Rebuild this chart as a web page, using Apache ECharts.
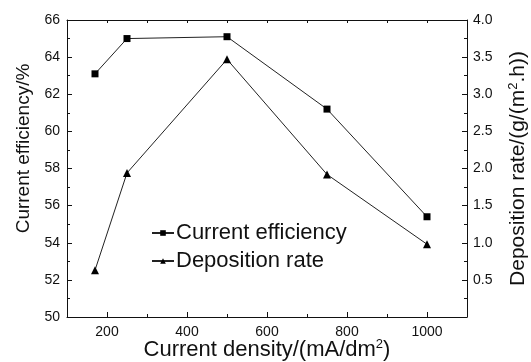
<!DOCTYPE html>
<html>
<head>
<meta charset="utf-8">
<script src="https://cdn.jsdelivr.net/npm/echarts@6/dist/echarts.min.js"></script>
<style>
  html, body { margin: 0; padding: 0; background: #fff; }
  #chart { width: 531px; height: 362px; }
</style>
</head>
<body>
<div id="chart"></div>
<script>
// Current density (mA/dm2)
const currentDensity = [170, 250, 500, 750, 1000];
// Current efficiency (%), left axis
const currentEfficiency = [63.1, 65.0, 65.1, 61.2, 55.4];
// Deposition rate g/(m2.h), right axis
const depositionRate = [0.63, 1.94, 3.47, 1.92, 0.98];
// Tick positions along the x axis
const xMajorTicks = [200, 400, 600, 800, 1000];
const xMinorTicks = [300, 500, 700, 900];

const FONT = 'Liberation Sans, Arial, sans-serif';
const INK = '#111';

const chart = echarts.init(document.getElementById('chart'), null, { renderer: 'canvas' });

const pair = (xs, ys) => xs.map((x, i) => [x, ys[i]]);

chart.setOption({
  backgroundColor: '#fff',
  animation: false,
  textStyle: { fontFamily: FONT, color: INK },
  grid: { left: 67, right: 64, top: 20, bottom: 45, outerBoundsMode: 'none', containLabel: false },
  legend: {
    orient: 'vertical',
    left: 151,
    top: 221,
    padding: 0,
    itemWidth: 22,
    itemHeight: 7,
    itemGap: 4,
    textStyle: { fontFamily: FONT, fontSize: 22, lineHeight: 24, color: INK, padding: [0, 0, 0, -3] },
    data: ['Current efficiency', 'Deposition rate']
  },
  xAxis: [
    {
      type: 'value', position: 'bottom', min: 100, max: 1100,
      name: '{a|Current density/(mA/dm}{s|2}{a|)}',
      nameLocation: 'middle', nameGap: 21, nameMoveOverlap: false,
      nameTextStyle: {
        rich: {
          a: { fontFamily: FONT, fontSize: 22, color: INK },
          s: { fontFamily: FONT, fontSize: 13, color: INK, verticalAlign: 'top', padding: [0, 0, 10, 0] }
        }
      },
      axisLine: { show: true, lineStyle: { color: INK, width: 1 } },
      axisTick: { show: true, inside: true, length: 5, customValues: xMajorTicks, lineStyle: { color: INK } },
      axisLabel: {
        customValues: xMajorTicks, fontFamily: FONT, fontSize: 14, color: INK, margin: 8,
        formatter: v => String(v)
      },
      splitLine: { show: false }
    },
    {
      type: 'value', position: 'bottom', min: 100, max: 1100,
      axisLine: { show: false },
      axisTick: { show: true, inside: true, length: 3, customValues: xMinorTicks, lineStyle: { color: INK } },
      axisLabel: { show: false },
      splitLine: { show: false }
    },
    {
      type: 'value', position: 'top', min: 100, max: 1100, interval: 100,
      axisLine: { show: true, lineStyle: { color: INK, width: 1 } },
      axisTick: { show: true, inside: true, length: 3, lineStyle: { color: INK } },
      axisLabel: { show: false },
      splitLine: { show: false }
    }
  ],
  yAxis: [
    {
      type: 'value', position: 'left', min: 50, max: 66, interval: 2,
      name: 'Current efficiency/%',
      nameLocation: 'middle', nameGap: 34, nameRotate: 90,
      nameTextStyle: { fontFamily: FONT, fontSize: 19, color: INK, padding: [0, 0, 0, 40] },
      axisLine: { show: true, lineStyle: { color: INK, width: 1 } },
      axisTick: { show: true, inside: true, length: 5, lineStyle: { color: INK } },
      minorTick: { show: true, splitNumber: 2, length: 3, lineStyle: { color: INK } },
      axisLabel: { fontFamily: FONT, fontSize: 14, color: INK, margin: 7 },
      splitLine: { show: false }
    },
    {
      type: 'value', position: 'right', min: 0, max: 4, interval: 0.5,
      name: '{a|Deposition rate/(g/(m}{s|2}{a|.h))}',
      nameLocation: 'middle', nameGap: 40, nameRotate: 90,
      nameTextStyle: {
        rich: {
          a: { fontFamily: FONT, fontSize: 21, color: INK },
          s: { fontFamily: FONT, fontSize: 13, color: INK, verticalAlign: 'top', padding: [0, 0, 10, 0] }
        }
      },
      axisLine: { show: true, lineStyle: { color: INK, width: 1 } },
      axisTick: { show: true, inside: true, length: 5, lineStyle: { color: INK } },
      minorTick: { show: true, splitNumber: 2, length: 3, lineStyle: { color: INK } },
      axisLabel: {
        showMinLabel: false, fontFamily: FONT, fontSize: 14, color: INK, margin: 6,
        formatter: v => v.toFixed(1)
      },
      splitLine: { show: false }
    }
  ],
  series: [
    {
      name: 'Current efficiency', type: 'line', xAxisIndex: 0, yAxisIndex: 0,
      data: pair(currentDensity, currentEfficiency),
      symbol: 'rect', symbolSize: 7,
      itemStyle: { color: '#000' },
      lineStyle: { color: '#222', width: 1 }
    },
    {
      name: 'Deposition rate', type: 'line', xAxisIndex: 0, yAxisIndex: 1,
      data: pair(currentDensity, depositionRate),
      symbol: 'triangle', symbolSize: 8,
      itemStyle: { color: '#000' },
      lineStyle: { color: '#222', width: 1 }
    }
  ]
});
</script>
</body>
</html>
